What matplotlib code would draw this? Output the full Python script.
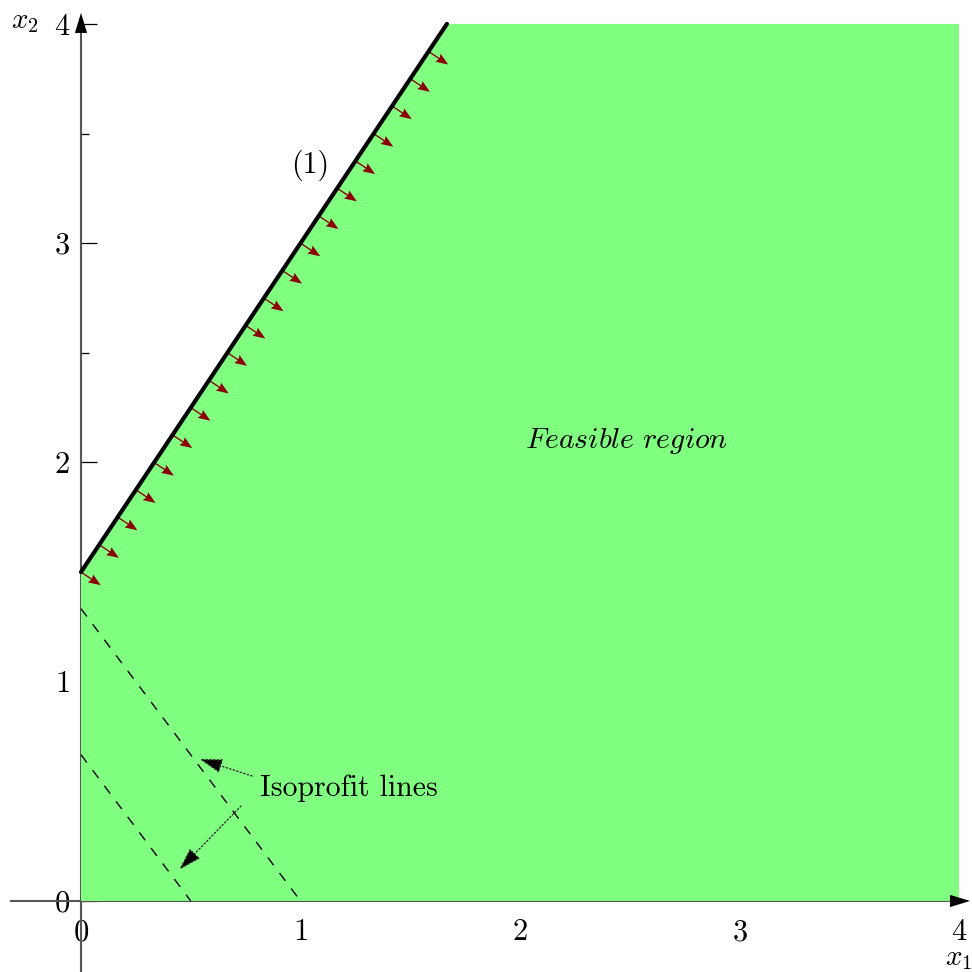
import numpy as np
import matplotlib
matplotlib.use("Agg")
from matplotlib import pyplot as plt

plt.rcParams['font.family'] = ['cmr10', 'DejaVu Serif']
plt.rcParams['mathtext.fontset'] = 'cm'
plt.rcParams['axes.formatter.use_mathtext'] = True

# data
feasible_x = [0.0, 0.0, 1.667, 4.0, 4.0]
feasible_y = [0.0, 1.5, 4.0, 4.0, 0.0]

constraint_x = [0.0, 1.667]          # x2 = 1.5 + 1.5 x1
constraint_y = [1.5, 4.0]

# positions of the small red arrows along constraint (1)
arrow_x = [0.000, 0.083, 0.167, 0.250, 0.333, 0.417, 0.500, 0.583, 0.667, 0.750,
           0.833, 0.917, 1.000, 1.083, 1.167, 1.250, 1.333, 1.417, 1.500, 1.583]
arrow_y = [1.5 + 1.5 * v for v in arrow_x]
arrow_len = 0.108

iso1_x = [0.0, 1.0]
iso1_y = [1.333, 0.0]
iso2_x = [0.0, 0.5]
iso2_y = [0.667, 0.0]

xticks = [0, 1, 2, 3, 4]
yticks = [0, 1, 2, 3, 4]
yticks_minor = [0.5, 1.5, 2.5, 3.5]

fig = plt.figure(figsize=(9.72, 9.72), dpi=100)
ax = fig.add_axes([0, 0, 1, 1])
ax.set_xlim(-0.369, 4.059)
ax.set_ylim(-0.324, 4.109)

# axes through the origin
for s in ['top', 'right']:
    ax.spines[s].set_visible(False)
ax.spines['left'].set_position(('data', 0))
ax.spines['bottom'].set_position(('data', 0))
ax.spines['left'].set_bounds(-0.32, 4.0)
ax.spines['bottom'].set_bounds(-0.32, 4.0)
for s in ['left', 'bottom']:
    ax.spines[s].set_color('#555555')
    ax.spines[s].set_linewidth(1.5)

ax.set_xticks(xticks)
ax.set_yticks(yticks)
ax.set_yticks(yticks_minor, minor=True)
ax.tick_params(axis='y', which='major', direction='in', length=11.5, width=0.9,
               pad=8, labelsize=22, color='k')
ax.tick_params(axis='y', which='minor', direction='in', length=5.8, width=0.9, color='k')
ax.tick_params(axis='x', which='major', direction='in', length=0,
               pad=13, labelsize=22)

# arrow heads on the axes
head = dict(arrowstyle='-|>,head_length=0.72,head_width=0.22', fc='k', ec='k',
            lw=0, mutation_scale=20, shrinkA=0, shrinkB=0)
ax.annotate('', xy=(4.05, 0), xytext=(3.9, 0), arrowprops=head, zorder=6)
ax.annotate('', xy=(0, 4.05), xytext=(0, 3.9), arrowprops=head, zorder=6)

# feasible region
ax.fill(feasible_x, feasible_y, color='#80ff80', lw=0, zorder=3)

# constraint (1) and the direction arrows
ax.plot(constraint_x, constraint_y, color='k', lw=3, solid_capstyle='round', zorder=5)
nrm = np.array([1.5, -1.0]) / np.hypot(1.5, 1.0) * arrow_len
ax.quiver(arrow_x, arrow_y, [nrm[0]] * len(arrow_x), [nrm[1]] * len(arrow_x),
          angles='xy', scale_units='xy', scale=1, color='#8b0000',
          width=0.0014, headwidth=7, headlength=9, headaxislength=8, zorder=4)

# isoprofit lines
ax.plot(iso1_x, iso1_y, color='k', lw=1, ls=(0, (7, 7)), zorder=4)
ax.plot(iso2_x, iso2_y, color='k', lw=1, ls=(0, (7, 7)), zorder=4)

dot = dict(arrowstyle='-|>,head_length=0.72,head_width=0.22', fc='k', ec='#333333',
           lw=1, ls=':', mutation_scale=20, shrinkA=0, shrinkB=0)
ax.annotate('', xy=(0.538, 0.648), xytext=(0.779, 0.570), arrowprops=dot, zorder=6)
ax.annotate('', xy=(0.446, 0.141), xytext=(0.729, 0.433), arrowprops=dot, zorder=6)
ax.text(0.815, 0.515, 'Isoprofit lines', fontsize=21.5, ha='left', va='center', zorder=7)

ax.text(1.043, 3.357, '(1)', fontsize=21.5, ha='center', va='center', zorder=7)
ax.text(2.487, 2.098, r'$\mathit{Feasible\ region}$', fontsize=21.5, ha='center',
        va='center', zorder=7)

ax.text(4.0, -0.262, r'$x_1$', fontsize=21, ha='center', va='center', zorder=7)
ax.text(-0.255, 4.01, r'$x_2$', fontsize=21, ha='center', va='center', zorder=7)

fig.savefig('out.png', dpi=100)
